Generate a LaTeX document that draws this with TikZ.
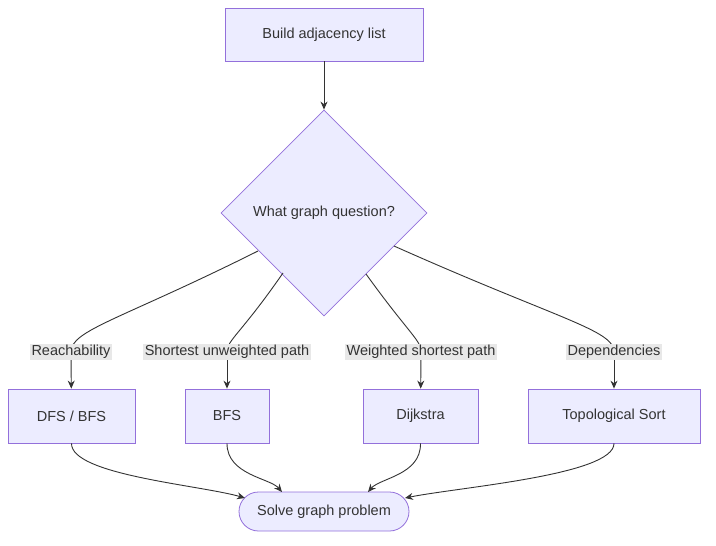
\documentclass[tikz,border=0pt]{standalone}
\usepackage{fontspec}
\setmainfont{Liberation Sans}
\usetikzlibrary{shapes.geometric,arrows.meta}
\definecolor{nfill}{HTML}{ECECFF}
\definecolor{nline}{HTML}{9370DB}
\definecolor{ink}{HTML}{333333}
\definecolor{lbg}{HTML}{E8E8E8}
\begin{document}
\begin{tikzpicture}[x=1pt,y=-1pt,
  every node/.style={font=\fontsize{14.5}{17}\selectfont, text=ink},
  box/.style={draw=nline, fill=nfill, line width=0.8pt, inner sep=0pt},
  lab/.style={fill=lbg, inner sep=1.5pt},
  edge/.style={draw=ink, line width=0.9pt, -{Stealth[length=8pt,width=7pt]}},
  plain/.style={draw=ink, line width=0.9pt}]
\useasboundingbox (0,0) rectangle (716,546);
\node[box, minimum width=198pt, minimum height=53pt] (a) at (324,34.5) {Build adjacency list};
\node[box, diamond, minimum width=206pt, minimum height=206pt, aspect=1] (q) at (324,213) {What graph question?};
\node[box, minimum width=127pt, minimum height=54pt] (b1) at (71.5,416) {DFS / BFS};
\node[box, minimum width=84pt, minimum height=54pt] (b2) at (227,416) {BFS};
\node[box, minimum width=115pt, minimum height=54pt] (b3) at (420.5,416) {Dijkstra};
\node[box, minimum width=172pt, minimum height=54pt] (b4) at (614,416) {Topological Sort};
\node[box, rounded corners=19.5pt, minimum width=170pt, minimum height=39pt] (s) at (324,511.5) {Solve graph problem};
\coordinate (l1) at (71,352);
\coordinate (l2) at (227,352);
\coordinate (l3) at (421,352);
\coordinate (l4) at (614,352);
\draw[edge] (a) -- (q);
\draw[plain] (258,251) .. controls (120,320) and (71,330) .. (l1);
\draw[plain] (283,273) .. controls (240,335) and (227,340) .. (l2);
\draw[plain] (366,274) .. controls (410,335) and (421,340) .. (l3);
\draw[plain] (394,246) .. controls (560,320) and (614,330) .. (l4);
\draw[edge] (l1) -- (b1);
\draw[edge] (l2) -- (b2);
\draw[edge] (l3) -- (b3);
\draw[edge] (l4) -- (b4);
\node[lab] at (l1) {Reachability};
\node[lab] at (l2) {Shortest unweighted path};
\node[lab] at (l3) {Weighted shortest path};
\node[lab] at (l4) {Dependencies};
\draw[edge] (b1.south) .. controls (71,475) and (200,485) .. (245,498);
\draw[edge] (b2.south) .. controls (227,475) and (270,478) .. (282,492);
\draw[edge] (b3.south) .. controls (421,475) and (380,478) .. (368,492);
\draw[edge] (b4.south) .. controls (614,475) and (460,487) .. (405,498);
\end{tikzpicture}
\end{document}
